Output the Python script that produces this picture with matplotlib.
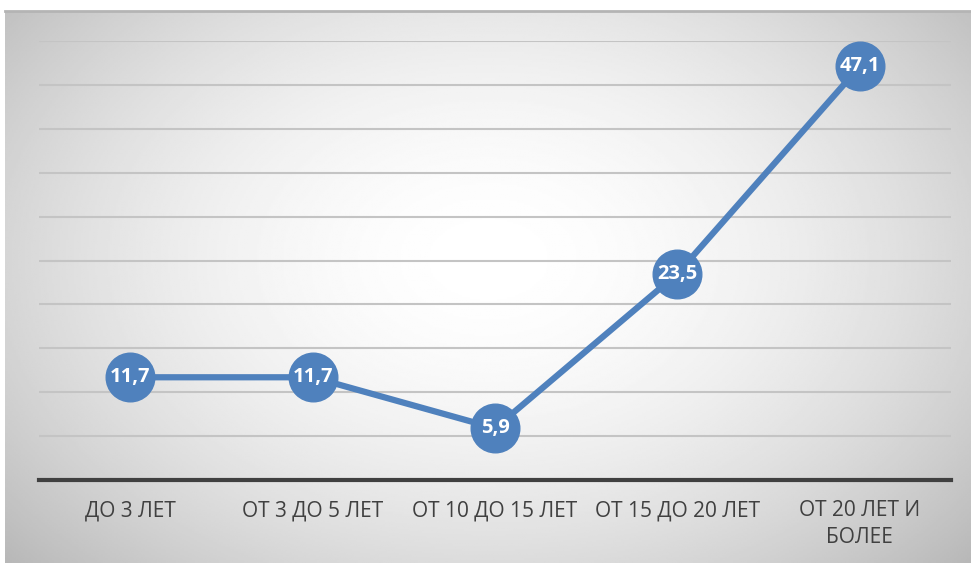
import matplotlib.pyplot as plt
import numpy as np

categories = ["ДО 3 ЛЕТ", "ОТ 3 ДО 5 ЛЕТ", "ОТ 10 ДО 15 ЛЕТ", "ОТ 15 ДО 20 ЛЕТ", "ОТ 20 ЛЕТ И\nБОЛЕЕ"]
values = [11.7, 11.7, 5.9, 23.5, 47.1]
value_labels = ["11,7", "11,7", "5,9", "23,5", "47,1"]

W, H = 971, 563
fig = plt.figure(figsize=(W / 100, H / 100), dpi=100)
fig.patch.set_facecolor("white")

# radial gradient panel behind the chart
bg = fig.add_axes([5 / W, 0, (W - 5) / W, (H - 11) / H], zorder=0)
yy, xx = np.mgrid[0:1:300j, 0:1:500j]
d = np.sqrt(((xx - 0.5) / 0.62) ** 2 + ((yy - 0.55) / 0.75) ** 2)
shade = 1.0 - 0.24 * np.clip(d, 0, 1.2) ** 1.8
bg.imshow(shade, cmap="gray", vmin=0, vmax=1, aspect="auto", extent=[0, 1, 0, 1], origin="lower")
bg.set_axis_off()
bg.plot([0, 1], [1, 1], color="#b4b4b4", lw=2, transform=bg.transAxes, clip_on=False)

ax = fig.add_axes([39 / W, (H - 480) / H, (951 - 39) / W, (480 - 41) / H], zorder=1)
ax.patch.set_alpha(0)
x = np.arange(len(categories))
ax.plot(x, values, color="#4f81bd", lw=4.5, marker="o", ms=35, mfc="#4f81bd", mec="#4f81bd", zorder=3)
for xi, v, lab in zip(x, values, value_labels):
    ax.text(xi, v, lab, ha="center", va="center", color="white", fontsize=14.5,
            fontweight="bold", family="Open Sans", zorder=4)

ax.set_xlim(-0.5, len(categories) - 0.5)
ax.set_ylim(0, 50)
ax.set_yticks(np.arange(0, 51, 5))
ax.yaxis.grid(True, color="#c4c4c4", lw=1.5)
ax.set_axisbelow(True)
ax.tick_params(axis="y", left=False, labelleft=False)
ax.tick_params(axis="x", bottom=False, pad=11)
ax.set_xticks(x)
ax.set_xticklabels(categories, fontsize=15, color="#404040", family="Open Sans", linespacing=1.35)
for t in ax.get_xticklabels():
    t.set_verticalalignment("top")
for s in ["top", "left", "right"]:
    ax.spines[s].set_visible(False)
ax.spines["bottom"].set_color("#404040")
ax.spines["bottom"].set_linewidth(3)

fig.savefig("out.png", dpi=100)
